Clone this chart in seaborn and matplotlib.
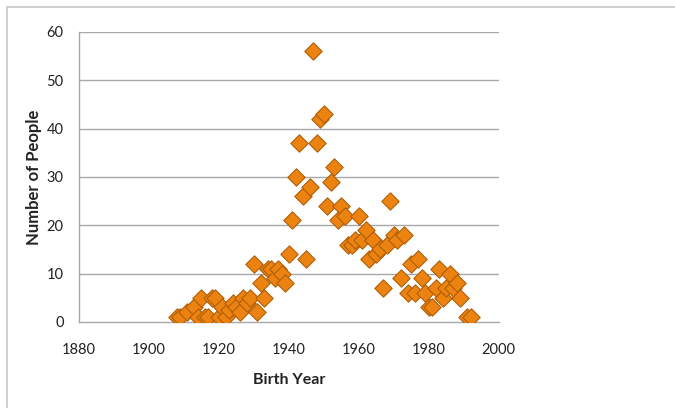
import matplotlib
matplotlib.use("Agg")
import matplotlib.pyplot as plt
import seaborn as sns
import pandas as pd
from matplotlib.lines import Line2D

birth_year = [1908, 1909, 1911, 1913, 1914, 1915, 1916, 1917, 1918, 1919,
              1920, 1921, 1922, 1923, 1924, 1925, 1926, 1927, 1928, 1929,
              1930, 1931, 1932, 1933, 1934, 1935, 1936, 1937, 1938, 1939,
              1940, 1941, 1942, 1943, 1944, 1945, 1946, 1947, 1948, 1949,
              1950, 1951, 1952, 1953, 1954, 1955, 1956, 1957, 1958, 1959,
              1960, 1961, 1962, 1963, 1964, 1965, 1966, 1967, 1968, 1969,
              1970, 1971, 1972, 1973, 1974, 1975, 1976, 1977, 1978, 1979,
              1980, 1981, 1982, 1983, 1984, 1985, 1986, 1987, 1988, 1989,
              1991, 1992]
num_people = [1, 1, 2, 3, 1, 5, 1, 1, 5, 5,
              1, 3, 1, 2.5, 4, 3, 2, 5, 4, 5,
              12, 2, 8, 5, 11, 11, 9, 11, 10, 8,
              14, 21, 30, 37, 26, 13, 28, 56, 37, 42,
              43, 24, 29, 32, 21, 24, 22, 16, 16, 17,
              22, 17, 19, 13, 17, 14, 15, 7, 16, 25,
              18, 17, 9, 18, 6, 12, 6, 13, 9, 6,
              3, 3, 7, 11, 5, 7, 10, 7, 8, 5,
              1, 1]
x_ticks = [1880, 1900, 1920, 1940, 1960, 1980, 2000]
y_ticks = [0, 10, 20, 30, 40, 50, 60]

df = pd.DataFrame({"Birth Year": birth_year, "Number of People": num_people})

sns.set_style("white")
plt.rcParams["font.family"] = ["Lato", "DejaVu Sans"]

fig = plt.figure(figsize=(6.75, 4.08), dpi=100)
ax = fig.add_axes([0.117, 0.211, 0.622, 0.711])

grid_c = "#a8a8a8"
for v in y_ticks[1:]:
    ax.axhline(v, color=grid_c, lw=1.0, zorder=0)

sns.scatterplot(data=df, x="Birth Year", y="Number of People", marker="D",
                s=78, color="#EC820F", edgecolor="#B05E08", linewidth=0.8,
                ax=ax, zorder=3, legend=False)

ax.set_xlim(1880, 2000)
ax.set_ylim(0, 60)
ax.set_xticks(x_ticks)
ax.set_yticks(y_ticks)
ax.tick_params(axis="both", labelsize=10.5, length=4, width=1,
               direction="out", color=grid_c, labelcolor="#222222")
ax.tick_params(axis="x", pad=11)
ax.tick_params(axis="y", pad=7)

for side in ["top", "right"]:
    ax.spines[side].set_visible(False)
for side in ["left", "bottom"]:
    ax.spines[side].set_color(grid_c)
    ax.spines[side].set_linewidth(1.0)

ax.set_xlabel("Birth Year", fontsize=11.5, fontweight="bold", color="#222222",
              labelpad=12)
ax.set_ylabel("Number of People", fontsize=12, fontweight="bold",
              color="#222222", labelpad=3)

# outer chart border (left and top visible)
fig.add_artist(Line2D([7/675, 7/675], [0, 1 - 7/408], transform=fig.transFigure,
                      color="#c8c8c8", lw=1.2))
fig.add_artist(Line2D([7/675, 1], [1 - 7/408, 1 - 7/408], transform=fig.transFigure,
                      color="#c8c8c8", lw=1.2))

fig.savefig("out.png", dpi=100, facecolor="white")
